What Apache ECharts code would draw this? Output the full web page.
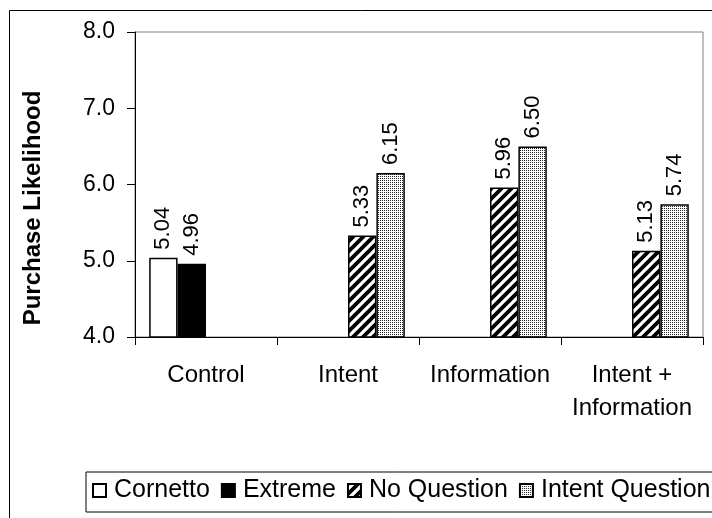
<!DOCTYPE html>
<html>
<head>
<meta charset="utf-8">
<script src="https://cdn.jsdelivr.net/npm/echarts@6/dist/echarts.min.js"></script>
<style>
html,body{margin:0;padding:0;background:#fff;}
#chart{width:712px;height:518px;}
</style>
</head>
<body>
<div id="chart"></div>
<script>
var categories = ['Control', 'Intent', 'Information', 'Intent +\nInformation'];
var seriesNames = ['Cornetto', 'Extreme', 'No Question', 'Intent Question'];
var cornetto = [5.04, '-', '-', '-'];
var extreme = [4.96, '-', '-', '-'];
var noQuestion = ['-', 5.33, 5.96, 5.13];
var intentQuestion = ['-', 6.15, 6.50, 5.74];
var yTicks = ['4.0', '5.0', '6.0', '7.0', '8.0'];

function hatchPattern() {
  var c = document.createElement('canvas');
  var s = 10;
  c.width = s; c.height = s;
  var g = c.getContext('2d');
  g.fillStyle = '#fff'; g.fillRect(0, 0, s, s);
  g.strokeStyle = '#000'; g.lineWidth = 3.8;
  g.beginPath();
  g.moveTo(-s, s); g.lineTo(s, -s);
  g.moveTo(0, 2 * s); g.lineTo(2 * s, 0);
  g.moveTo(-s, 2 * s); g.lineTo(2 * s, -s);
  g.stroke();
  return c;
}
function dotPattern() {
  var c = document.createElement('canvas');
  c.width = 2; c.height = 2;
  var g = c.getContext('2d');
  g.fillStyle = '#fff'; g.fillRect(0, 0, 2, 2);
  g.fillStyle = '#222'; g.fillRect(0, 0, 1, 1);
  return c;
}

var font = 'Liberation Sans, Arial, sans-serif';
var labelCfg = {
  show: true, position: 'top', rotate: 90, align: 'left', verticalAlign: 'middle',
  distance: 8, fontSize: 22, fontFamily: font, color: '#000',
  formatter: function (p) { return Number(p.value).toFixed(2); }
};
function mkSeries(name, data, fill) {
  return {
    name: name, type: 'bar', data: data, barGap: '0%', barCategoryGap: '20%',
    itemStyle: { color: fill, borderColor: '#000', borderWidth: 1.5 },
    label: labelCfg, animation: false, silent: true
  };
}

var chart = echarts.init(document.getElementById('chart'));
chart.setOption({
  animation: false,
  backgroundColor: '#fff',
  grid: { left: 135, top: 32, right: 9, bottom: 181, show: true, borderColor: '#808080', borderWidth: 1, backgroundColor: 'transparent' },
  graphic: [
    { type: 'rect', shape: { x: 9.5, y: 10.5, width: 720, height: 520 }, style: { fill: 'none', stroke: '#000', lineWidth: 1 }, z: -1 },
    { type: 'text', x: 33, y: 208, rotation: Math.PI / 2,
      style: { text: 'Purchase Likelihood', font: 'bold 24px ' + font, fill: '#000', textAlign: 'center', textVerticalAlign: 'middle' } }
  ],
  legend: {
    data: seriesNames, left: 86, top: 472, orient: 'horizontal', width: 700,
    icon: 'rect',
    padding: [6, 40, 9, 6], itemGap: 11, itemWidth: 13, itemHeight: 13,
    borderColor: '#000', borderWidth: 1, backgroundColor: '#fff',
    textStyle: { fontSize: 25, fontFamily: font, color: '#000', padding: [0, 0, 0, 3] }
  },
  xAxis: {
    type: 'category', data: categories,
    axisLine: { lineStyle: { color: '#000', width: 1 } },
    axisTick: { show: true, length: 8, lineStyle: { color: '#000' } },
    axisLabel: { fontSize: 24, fontFamily: font, color: '#000', margin: 22, lineHeight: 33, interval: 0 }
  },
  yAxis: {
    type: 'value', min: 4, max: 8, interval: 1,
    axisLine: { show: true, lineStyle: { color: '#000', width: 1 } },
    axisTick: { show: true, length: 8, lineStyle: { color: '#000' } },
    splitLine: { show: false },
    axisLabel: { fontSize: 23, fontFamily: font, color: '#000', margin: 20,
      formatter: function (v) { return yTicks[Math.round(v - 4)]; } }
  },
  series: [
    mkSeries(seriesNames[0], cornetto, '#fff'),
    mkSeries(seriesNames[1], extreme, '#000'),
    mkSeries(seriesNames[2], noQuestion, { image: hatchPattern(), repeat: 'repeat' }),
    mkSeries(seriesNames[3], intentQuestion, { image: dotPattern(), repeat: 'repeat' })
  ]
});
</script>
</body>
</html>
